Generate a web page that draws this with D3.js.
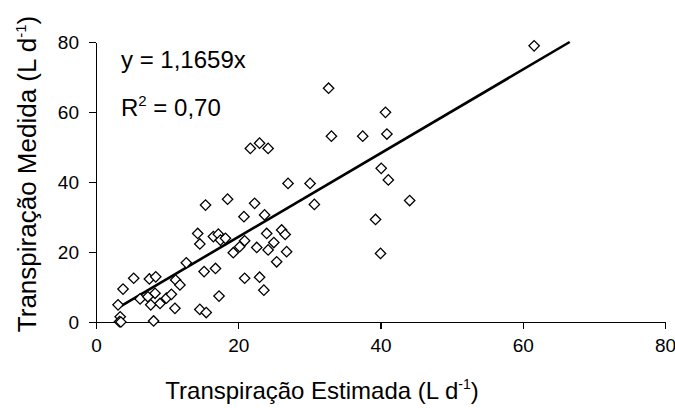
<!DOCTYPE html>
<html>
<head>
<meta charset="utf-8">
<script src="https://cdn.jsdelivr.net/npm/d3@7"></script>
<style>
  body { margin: 0; background: #fff; }
  svg text { font-family: "Liberation Sans", Arial, sans-serif; fill: #000; }
</style>
</head>
<body>
<div id="chart"></div>
<script>
// estimated (x) vs measured (y) transpiration, L/d
let estimada = [61.6, 32.7, 40.7, 40.9, 33.1, 37.5, 21.7, 23.0, 24.2, 40.1,
    41.1, 27.0, 30.1, 30.7, 44.1, 39.3, 40.0, 15.4, 18.5, 22.3,
    20.8, 23.7, 14.3, 14.6, 16.5, 17.2, 17.5, 18.2, 19.3, 20.2,
    20.9, 22.6, 24.0, 24.2, 25.0, 26.1, 26.6, 26.8, 25.4, 12.7,
    15.2, 16.8, 20.9, 23.0, 23.6, 17.3, 14.6, 15.5, 5.3, 7.5,
    8.4, 3.8, 11.2, 11.8, 8.3, 3.1, 6.2, 7.3, 7.7, 9.0,
    9.9, 10.6, 11.1, 3.4, 3.3, 3.5, 8.1];
let medida = [78.9, 66.8, 59.9, 53.7, 53.1, 53.1, 49.6, 51.1, 49.6, 43.9,
    40.6, 39.6, 39.6, 33.6, 34.7, 29.3, 19.6, 33.4, 35.1, 33.9,
    30.1, 30.6, 25.3, 22.3, 24.4, 25.1, 23.4, 23.9, 19.8, 21.5,
    23.2, 21.3, 25.3, 20.6, 22.7, 26.3, 25.0, 20.1, 17.2, 16.9,
    14.4, 15.3, 12.5, 12.8, 9.1, 7.4, 3.6, 2.7, 12.5, 12.3,
    12.9, 9.4, 12.0, 10.6, 8.2, 4.9, 6.6, 7.2, 4.9, 5.3,
    6.8, 7.9, 3.9, 1.5, 0.1, 0.0, 0.3];

let xTicks = [0, 20, 40, 60, 80];
let yTicks = [0, 20, 40, 60, 80];

// trend line ends as drawn in the figure
let trendX = [3.2, 66.6];
let trendY = [4.2, 80];

let width = 675;
let height = 408;

let svg = d3.select("#chart").append("svg")
    .attr("width", width)
    .attr("height", height);

let x = d3.scaleLinear().domain([0, 80]).range([96, 665]);
let y = d3.scaleLinear().domain([0, 80]).range([322, 42]);

// axes
svg.append("g")
    .attr("transform", "translate(0,322)")
    .call(d3.axisBottom(x).tickValues(xTicks).tickSize(7).tickPadding(10).tickSizeOuter(0));
svg.append("g")
    .attr("transform", "translate(96,0)")
    .call(d3.axisLeft(y).tickValues(yTicks).tickSize(7).tickPadding(10).tickSizeOuter(0));

svg.selectAll(".domain, .tick line")
    .attr("stroke", "#000")
    .attr("stroke-width", 1.2)
    .attr("shape-rendering", "crispEdges");
svg.selectAll(".tick text")
    .attr("font-size", 19)
    .attr("font-family", "'Liberation Sans', Arial, sans-serif")
    .attr("fill", "#000");

// trend line
let points = d3.zip(estimada, medida);
svg.append("line")
    .attr("x1", x(trendX[0])).attr("y1", y(trendY[0]))
    .attr("x2", x(trendX[1])).attr("y2", y(trendY[1]))
    .attr("stroke", "#000")
    .attr("stroke-width", 2.6);

// markers
let diamond = d3.symbol().type(d3.symbolSquare).size(54);
svg.append("g").selectAll("path")
    .data(points)
    .join("path")
    .attr("d", diamond)
    .attr("transform", d => "translate(" + x(d[0]) + "," + y(d[1]) + ") rotate(45)")
    .attr("fill", "#fff")
    .attr("stroke", "#000")
    .attr("stroke-width", 1.3);

// equation
svg.append("text")
    .attr("x", 121).attr("y", 68)
    .attr("font-size", 24)
    .text("y = 1,1659x");
let r2 = svg.append("text")
    .attr("x", 121).attr("y", 116)
    .attr("font-size", 24);
r2.append("tspan").text("R");
r2.append("tspan").attr("font-size", 15).attr("dy", -10).text("2");
r2.append("tspan").attr("dy", 10).text(" = 0,70");

// axis titles
let xt = svg.append("text")
    .attr("x", 322).attr("y", 399)
    .attr("text-anchor", "middle")
    .attr("font-size", 24);
xt.append("tspan").text("Transpiração Estimada (L d");
xt.append("tspan").attr("font-size", 14).attr("dy", -10).text("-1");
xt.append("tspan").attr("dy", 10).text(")");

let yt = svg.append("text")
    .attr("transform", "translate(36,174) rotate(-90)")
    .attr("text-anchor", "middle")
    .attr("font-size", 26);
yt.append("tspan").text("Transpiração Medida (L d");
yt.append("tspan").attr("font-size", 15).attr("dy", -10).text("-1");
yt.append("tspan").attr("dy", 10).text(")");
</script>
</body>
</html>
